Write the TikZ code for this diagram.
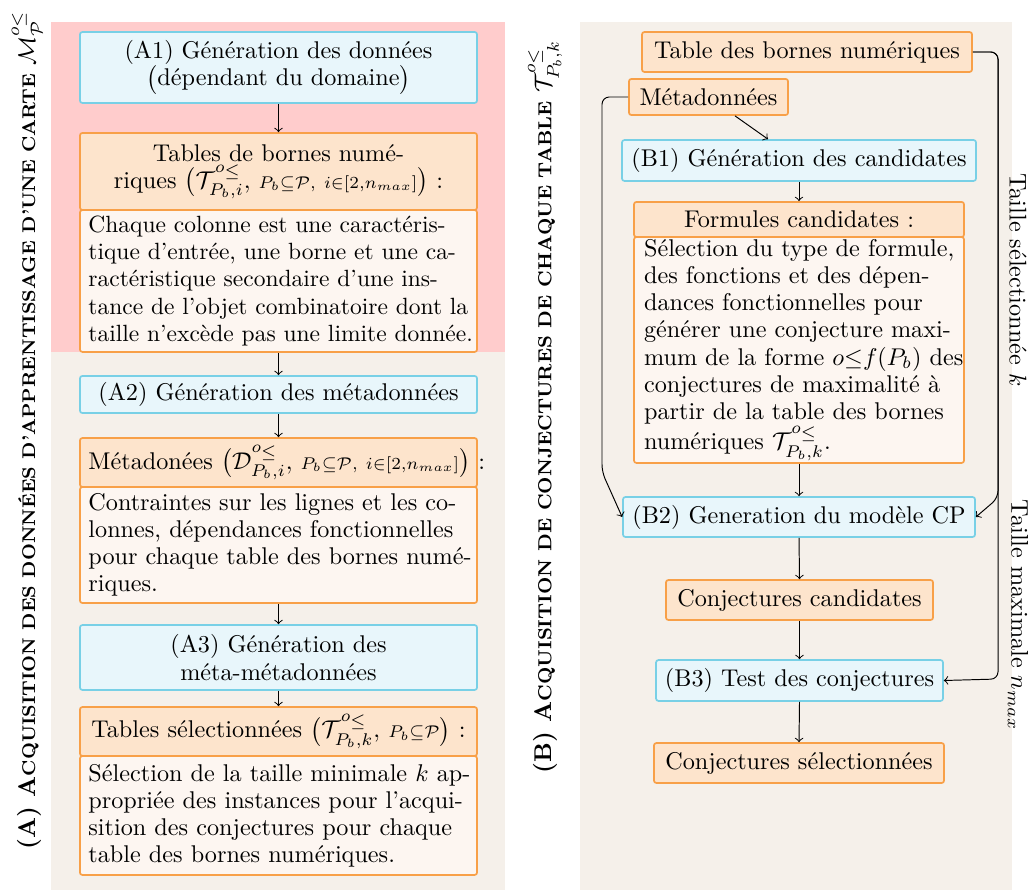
\documentclass[tikz,border=0pt]{standalone}
\usepackage{fontspec}
\usepackage{amsmath}
\usetikzlibrary{calc}

\definecolor{pinkbg}{RGB}{255,204,204}
\definecolor{beigebg}{RGB}{245,240,234}
\definecolor{cyanline}{RGB}{120,208,230}
\definecolor{cyanfill}{RGB}{232,246,251}
\definecolor{orangeline}{RGB}{248,160,72}
\definecolor{orangefill}{RGB}{253,228,204}
\definecolor{bodyfill}{RGB}{253,246,241}

% fake bold small capitals
\newcommand{\fsc}[1]{{\fontsize{7.8}{9}\selectfont #1}}
\newcommand{\fscA}[1]{{\fontsize{7.6}{9}\selectfont #1}}
% the "o <=" superscript used for tables and maps
\newcommand{\ole}{o\raisebox{-0.45ex}{$\scriptstyle\leq$}}

\tikzset{
  base/.style={rounded corners=1pt, line width=0.7pt, inner sep=0pt,
               align=center, font=\fontsize{10}{11.2}\selectfont},
  stepbox/.style={base, draw=cyanline, fill=cyanfill},
  headbox/.style={base, draw=orangeline, fill=orangefill},
  bodybox/.style={base, draw=orangeline, fill=bodyfill, align=left},
  arr/.style={->, line width=0.4pt},
  sidelabel/.style={rotate=-90, font=\fontsize{10}{12}\selectfont},
  title/.style={rotate=90, font=\fontsize{10}{12}\selectfont}
}

\begin{document}
\begin{tikzpicture}[x=0.413pt,y=-0.413pt]
\useasboundingbox (0,0) rectangle (1030,892);

% panels
\fill[pinkbg]  (51,22)  rectangle (505,352);
\fill[beigebg] (51,352) rectangle (505,890);
\fill[beigebg] (580,22) rectangle (1012,890);

% panel titles
\node[title] (titleA) at (27,430)
  {\textbf{(A) A\fscA{CQUISITION DES DONNÉES D'APPRENTISSAGE D'UNE CARTE}} $\mathcal{M}^{\ole}_{\mathcal{P}}$};
\node[title] (titleB) at (545,407)
  {\textbf{(B) A\fsc{CQUISITION DE CONJECTURES DE CHAQUE TABLE}} $\mathcal{T}^{\ole}_{P_b,k}$};

% ---------- left column ----------
\node[stepbox, minimum width=164pt, minimum height=29.3pt] (a1) at (278.5,67.5)
  {(A1) Génération des données\\$\big($dépendant du domaine$\big)$};

\node[headbox, minimum width=164pt, minimum height=31.8pt] (th) at (278.5,171.5)
  {Tables de bornes numé-\\riques $\big(\mathcal{T}^{\ole}_{P_b,i},\ \scriptstyle P_b\subseteq\mathcal{P},\ i\in[2,n_{max}]\big)$ :};
\node[bodybox, font=\fontsize{9.7}{11.2}\selectfont, text width=157pt, inner xsep=3.5pt, minimum height=58.6pt] (tb) at (278.5,281)
  {\mbox{Chaque colonne est une caractéris-}\\\mbox{tique d'entrée, une borne et une ca-}\\\mbox{ractéristique secondaire d'une ins-}\\\mbox{tance de l'objet combinatoire dont la}\\\mbox{taille n'excède pas une limite donnée.}};

\node[stepbox, minimum width=164pt, minimum height=15.3pt] (a2) at (278.5,394.5)
  {(A2) Génération des métadonnées};

\node[headbox, align=left, text width=157pt, inner xsep=3.5pt, minimum height=20.2pt] (mh) at (278.5,462.5)
  {\mbox{Métadonées $\big(\mathcal{D}^{\ole}_{P_b,i},\ \scriptstyle P_b\subseteq\mathcal{P},\ i\in[2,n_{max}]\big)$ :}};
\node[bodybox, text width=157pt, inner xsep=3.5pt, minimum height=47.9pt] (mb) at (278.5,545)
  {\mbox{Contraintes sur les lignes et les co-}\\\mbox{lonnes, dépendances fonctionnelles}\\\mbox{pour chaque table des bornes numé-}\\riques.};

\node[stepbox, minimum width=164pt, minimum height=26.8pt] (a3) at (278.5,657.5)
  {(A3) Génération des\\méta-métadonnées};

\node[headbox, minimum width=164pt, minimum height=20.2pt] (sh) at (278.5,731.5)
  {Tables sélectionnées $\big(\mathcal{T}^{\ole}_{P_b,k},\ \scriptstyle P_b\subseteq\mathcal{P}\big)$ :};
\node[bodybox, text width=157pt, inner xsep=3.5pt, minimum height=49.1pt] (sb) at (278.5,815.5)
  {\mbox{Sélection de la taille minimale $k$ ap-}\\\mbox{propriée des instances pour l'acqui-}\\\mbox{sition des conjectures pour chaque}\\\mbox{table des bornes numériques.}};

\draw[arr] (a1.south) -- (th.north);
\draw[arr] (tb.south) -- (a2.north);
\draw[arr] (a2.south) -- (mh.north);
\draw[arr] (mb.south) -- (a3.north);
\draw[arr] (a3.south) -- (sh.north);

% ---------- right column ----------
\node[headbox, minimum width=136.3pt, minimum height=16.5pt] (tabR) at (807,52)
  {Table des bornes numériques};
\node[headbox, minimum width=65.7pt, minimum height=14.9pt] (metaR) at (708.5,97)
  {Métadonnées};
\node[stepbox, minimum width=146.2pt, minimum height=16.9pt] (b1) at (799,160.5)
  {(B1) Génération des candidates};
\node[headbox, minimum width=136.3pt, minimum height=14.5pt] (fh) at (799,219.5)
  {Formules candidates :};
\node[bodybox, text width=128pt, inner xsep=4.15pt, minimum height=93.3pt] (fb) at (799,350)
  {\mbox{Sélection du type de formule,}\\\mbox{des fonctions et des dépen-}\\\mbox{dances fonctionnelles pour}\\\mbox{générer une conjecture maxi-}\\\mbox{mum de la forme $o{\leq}f(P_b)$ des}\\\mbox{conjectures de maximalité à}\\\mbox{partir de la table des bornes}\\\mbox{numériques $\mathcal{T}^{\ole}_{P_b,k}$.}};
\node[stepbox, minimum width=145.4pt, minimum height=16.5pt] (b2) at (799,517)
  {(B2) Generation du modèle CP};
\node[headbox, minimum width=110.3pt, minimum height=16.5pt] (cc) at (799.5,600)
  {Conjectures candidates};
\node[stepbox, minimum width=118.5pt, minimum height=16.9pt] (b3) at (799.5,680.5)
  {(B3) Test des conjectures};
\node[headbox, minimum width=119.8pt, minimum height=16.5pt] (cs) at (799,763)
  {Conjectures sélectionnées};

\coordinate (ml) at (602,472);
\coordinate (tr1) at (998,498);
\coordinate (tr2) at (998,679);

\draw[arr] ([xshift=26.5*0.413pt]metaR.south) -- ([xshift=-31*0.413pt]b1.north);
\draw[arr] (b1.south) -- (fh.north);
\draw[arr] (fb.south) -- (b2.north);
\draw[arr] (b2.south) -- (cc.north);
\draw[arr] (cc.south) -- (b3.north);
\draw[arr] (b3.south) -- (cs.north);
\draw[arr, rounded corners=3pt] (metaR.west) -| (ml) -- (b2.west);
\draw[arr, rounded corners=3pt] (tabR.east) -| (tr1) -- (b2.east);
\draw[arr, rounded corners=3pt] (tabR.east) -| (tr2) -- (b3.east);

\node[sidelabel] (lk) at (1018,280) {Taille sélectionnée $k$};
\node[sidelabel] (ln) at (1018,615) {Taille maximale $n_{max}$};
\end{tikzpicture}
\end{document}
